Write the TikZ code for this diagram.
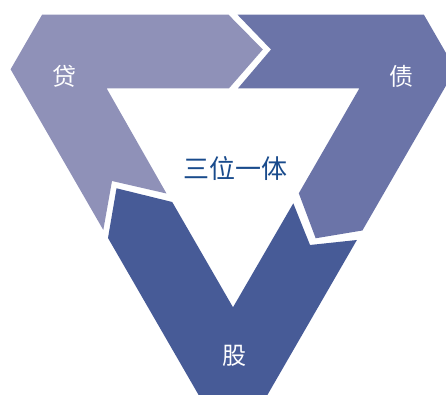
\documentclass[tikz,border=0pt]{standalone}
\usepackage{fontspec}
\usepackage{tikz}
\newfontfamily\cjk{Noto Sans CJK SC}

\begin{document}
\begin{tikzpicture}[x=0.75pt,y=0.75pt,yscale=-1,xscale=1,
    piece/.style={draw=none},
    wordlabel/.style={inner sep=0.75pt, text=white, font=\cjk\fontsize{18}{20}\selectfont},
    centerlabel/.style={inner sep=0.75pt, text={rgb, 255:red, 25; green, 75; blue, 140}, font=\cjk\fontsize{19.5}{22}\selectfont}]
        \useasboundingbox (0,0) rectangle (446,395);
        \clip (0,0) rectangle (446,395);

        %Shape: Polygon [dai]
        \draw [piece][fill={rgb, 255:red, 143; green, 145; blue, 184 }] (103.3,230) -- (10.6,69.3) -- (42.1,14.7) -- (228.5,14.7) -- (262.8,49.5) -- (229,88.3) -- (106.6,88.3) -- (166.5,193.5) -- (112,181) -- cycle ;
        %Shape: Polygon [zhai]
        \draw [piece][fill={rgb, 255:red, 107; green, 116; blue, 168 }] (237.5,14.7) -- (423.9,14.7) -- (455.4,69.3) -- (362.4,230.5) -- (315.7,238.3) -- (298.8,193.3) -- (359.4,88.3) -- (238,88.3) -- (271,49.5) -- cycle ;
        %Shape: Polygon [gu]
        \draw [piece][fill={rgb, 255:red, 71; green, 91; blue, 151 }] (356.9,240) -- (310,245) -- (293.3,203.3) -- (233,307.3) -- (172.2,202) -- (116.5,188.3) -- (108,238) -- (201.5,400) -- (264.5,400) -- cycle ;

        % Text Node
        \draw (64.5,76) node [wordlabel] (dai) {贷};
        % Text Node
        \draw (401.7,76) node [wordlabel] (zhai) {债};
        % Text Node
        \draw (234,355.5) node [wordlabel] (gu) {股};
        % Text Node
        \draw (235.3,169) node [centerlabel] (title) {三位一体};

    \end{tikzpicture}
\end{document}
